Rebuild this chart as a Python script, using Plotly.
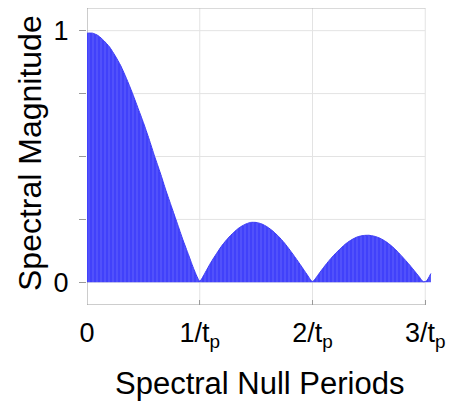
import plotly.graph_objects as go

# spectral null periods (units of 1/t_p) and magnitude
freq = [0.0, 0.05, 0.1, 0.15, 0.2, 0.25, 0.3, 0.35, 0.4, 0.45,
        0.5, 0.55, 0.6, 0.65, 0.7, 0.75, 0.8, 0.85, 0.9, 0.95,
        1.0, 1.05, 1.1, 1.15, 1.2, 1.25, 1.3, 1.35, 1.4, 1.45,
        1.5, 1.55, 1.6, 1.65, 1.7, 1.75, 1.8, 1.85, 1.9, 1.95,
        2.0, 2.05, 2.1, 2.15, 2.2, 2.25, 2.3, 2.35, 2.4, 2.45,
        2.5, 2.55, 2.6, 2.65, 2.7, 2.75, 2.8, 2.85, 2.9, 2.95,
        2.98, 3.01, 3.05]
magnitude = [0.99, 0.99, 0.98, 0.96, 0.935, 0.90, 0.86, 0.81, 0.755, 0.695,
             0.635, 0.57, 0.50, 0.435, 0.365, 0.30, 0.235, 0.17, 0.11, 0.05,
             0.005, 0.04, 0.08, 0.115, 0.148, 0.175, 0.198, 0.217, 0.23, 0.238,
             0.238, 0.232, 0.22, 0.203, 0.182, 0.157, 0.128, 0.097, 0.065, 0.032,
             0.003, 0.03, 0.06, 0.088, 0.113, 0.135, 0.155, 0.17, 0.181, 0.186,
             0.187, 0.183, 0.175, 0.162, 0.145, 0.124, 0.10, 0.075, 0.048, 0.02,
             0.003, 0.005, 0.035]

x_ticks = [0, 1, 2, 3]
x_labels = ["0", "1/t<sub>p</sub>", "2/t<sub>p</sub>", "3/t<sub>p</sub>"]
y_ticks = [0, 1]
y_labels = ["0", "1"]
y_minor = [0.25, 0.5, 0.75]

X_BOX = 3.0
Y_LO, Y_HI = -0.09, 1.09
GRID = "#e3e3e3"
AXIS = "#9a9a9a"
FONT = "Arial, Liberation Sans, sans-serif"

fig = go.Figure()
fig.add_trace(go.Scatter(
    x=freq, y=magnitude,
    mode="lines",
    line=dict(color="rgb(60,60,245)", width=1, shape="spline", smoothing=0.6),
    fill="tozeroy",
    fillcolor="rgb(70,70,255)",
    fillpattern=dict(shape="|", size=4, solidity=0.25,
                     fgcolor="rgb(125,125,255)", bgcolor="rgb(65,65,250)"),
    hoverinfo="skip",
))

shapes = []
# horizontal grid lines
for yv in y_ticks + y_minor:
    shapes.append(dict(type="line", xref="x", yref="y", x0=0, x1=X_BOX, y0=yv, y1=yv,
                       line=dict(color=GRID, width=1), layer="below"))
# vertical grid lines
for xv in x_ticks[1:]:
    shapes.append(dict(type="line", xref="x", yref="y", x0=xv, x1=xv, y0=Y_LO, y1=Y_HI,
                       line=dict(color=GRID, width=1), layer="below"))
# box: top, left, bottom
shapes.append(dict(type="line", xref="x", yref="y", x0=0, x1=X_BOX, y0=Y_HI, y1=Y_HI,
                   line=dict(color="#b5b5b5", width=1), layer="below"))
shapes.append(dict(type="line", xref="x", yref="y", x0=0, x1=0, y0=Y_LO, y1=Y_HI,
                   line=dict(color=AXIS, width=1), layer="below"))
shapes.append(dict(type="line", xref="x", yref="y", x0=0, x1=X_BOX, y0=Y_LO, y1=Y_LO,
                   line=dict(color=AXIS, width=1), layer="below"))

# the page body adds an 8px margin, so the figure is a bit smaller than the window
fig.update_layout(
    width=450, height=393,
    margin=dict(l=79, r=26, t=0, b=96),
    paper_bgcolor="white", plot_bgcolor="white",
    showlegend=False,
    font=dict(family=FONT, size=27, color="black"),
    shapes=shapes,
    xaxis=dict(range=[0, 3.06], showgrid=False, zeroline=False, showline=False,
               tickvals=x_ticks, ticktext=x_labels, ticklabelstandoff=9,
               ticks="inside", ticklen=5, tickcolor=AXIS, tickwidth=1),
    yaxis=dict(range=[Y_LO, Y_HI], showgrid=False, zeroline=False, showline=False,
               tickvals=y_ticks, ticktext=y_labels, ticklabelstandoff=5,
               ticks="outside", ticklen=7, tickcolor=AXIS, tickwidth=1,
               minor=dict(tickvals=y_minor, ticks="outside", ticklen=7,
                          tickcolor=AXIS, tickwidth=1, showgrid=False)),
    annotations=[
        dict(text="Spectral Null Periods", xref="paper", yref="paper",
             x=0.501, y=-0.263, xanchor="center", yanchor="middle",
             showarrow=False, font=dict(size=31)),
        dict(text="Spectral Magnitude", xref="paper", yref="paper",
             x=-0.165, y=0.512, xanchor="center", yanchor="middle",
             textangle=-90, showarrow=False, font=dict(size=32)),
    ],
)

fig.write_html("out.html")
